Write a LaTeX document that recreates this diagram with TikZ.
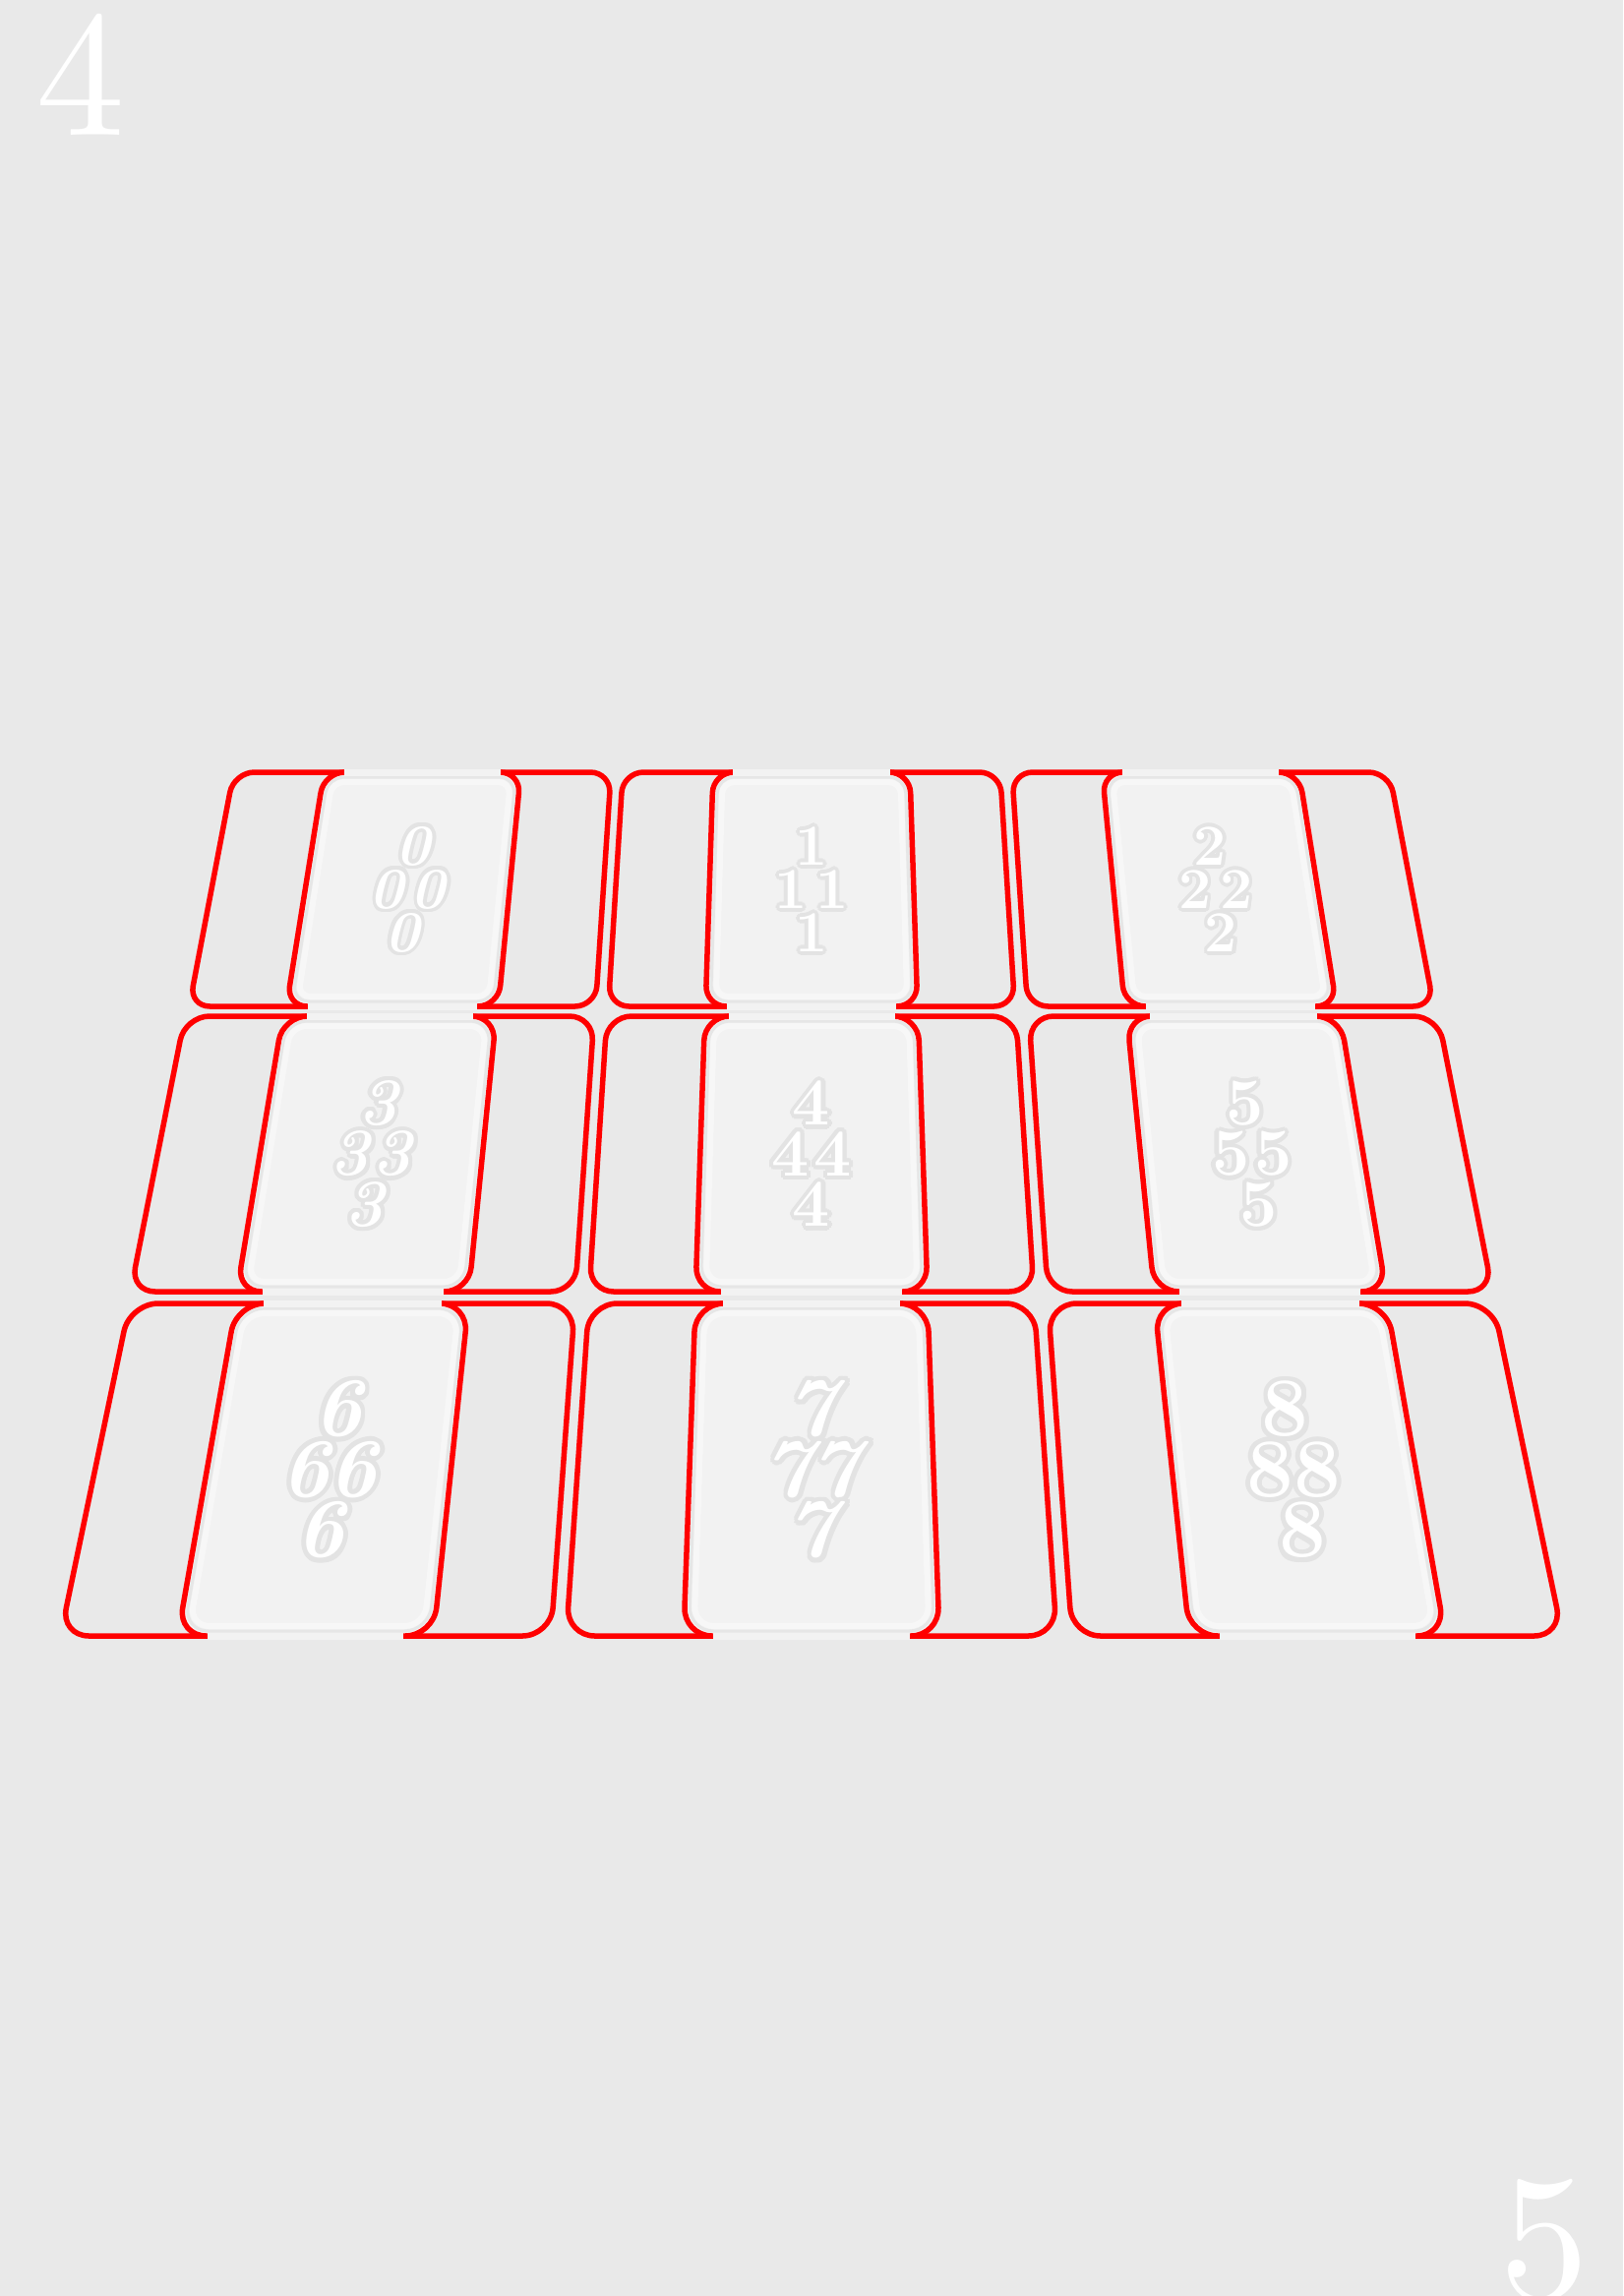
\documentclass[tikz,border=0pt]{standalone}
\usepackage{fontspec}
\usetikzlibrary{calc}
\newfontface\pgface{lmroman10-regular.otf}
\definecolor{bgc}{HTML}{E9E9E9}
\definecolor{cardfill}{HTML}{F2F2F2}
\definecolor{cardedge}{HTML}{E6E6E6}
\definecolor{cardhi}{HTML}{F7F7F7}
\definecolor{halo}{HTML}{E3E3E3}
\definecolor{tred}{HTML}{FF0000}
\tikzset{
  tileline/.style={draw=tred,line width=5.5},
  digit/.style={inner sep=0,font=\fontsize{\fs}{\fs}\selectfont\bfseries\digshape},
  pagenum/.style={inner sep=0,anchor=base,text=white,font=\fontsize{182}{182}\selectfont\pgface}
}
\newcommand\projx[3]{\pgfmathsetmacro#1{825+(#2)/587*(\Wt+((#3)-\yt)/(\yb-\yt)*(\Wb-\Wt))}}
\newcommand\tquad[5]{\projx\qa{#2}{#4}\projx\qb{#3}{#4}\projx\qc{#3}{#5}\projx\qd{#2}{#5}%
  \path[#1] (\qa,#4) -- (\qb,#4) -- (\qc,#5) -- (\qd,#5) -- cycle;}
\newcommand\halodigit[3]{%
  \foreach \a in {0,30,...,330}{\node[digit,text=halo] at ($(#1,#2)+(\a:\ha)$) {#3};}
  \node[digit,text=white] at (#1,#2) {#3};}
\begin{document}
\begin{tikzpicture}[x=1pt,y=-1pt]
\fill[bgc] (0,0) rectangle (1650,2334);
\useasboundingbox (0,0) rectangle (1650,2334);
\node[pagenum] (pa) at (82,137) {4};
\node[pagenum] (pb) at (1570,2336) {5};
\foreach \r/\yt/\yb/\Wt/\Wb/\rad/\rada/\radb/\fs/\sp/\hs/\ha in
  {1/785/1023/587.1/632.4/21/17/12/59/44/21/3.7,
   2/1033/1313/636.7/692.1/25/21/16/68/51.5/21.5/4.2,
   3/1325/1663/692.8/763.3/29/25/20/85/61.5/24/4.8}{
  \foreach \c in {0,1,2}{
    \pgfmathtruncatemacro\n{3*(\r-1)+\c}
    \pgfmathsetmacro\uc{(\c-1)*395.5}
    \pgfmathsetmacro\k{587/((\Wt+\Wb)/2)}
    \ifcase\n \def\digshape{\itshape}\or\def\digshape{}\or\def\digshape{}\or
      \def\digshape{\itshape}\or\def\digshape{}\or\def\digshape{}\or
      \def\digshape{\itshape}\or\def\digshape{\itshape}\or\def\digshape{}\fi
    % outer tile
    \tquad{tileline,rounded corners=\rad}{\uc-191.75}{\uc+191.75}{\yt}{\yb}
    % card
    \tquad{tileline,fill=cardfill,rounded corners=\rad}{\uc-100}{\uc+100}{\yt}{\yb}
    \tquad{draw=cardedge,line width=3,rounded corners=\rada}{\uc-100+5*\k}{\uc+100-5*\k}{\yt+5}{\yb-5}
    \tquad{draw=cardhi,line width=6,rounded corners=\radb}{\uc-100+10*\k}{\uc+100-10*\k}{\yt+10}{\yb-10}
    % bands over the straight top and bottom edges
    \projx\ba{\uc-100+\rad*\k}{\yt}\projx\bb{\uc+100-\rad*\k}{\yt}
    \fill[cardfill] (\ba,\yt-3.5) rectangle (\bb,\yt+3.5);
    \projx\ba{\uc-100+\rad*\k}{\yb}\projx\bb{\uc+100-\rad*\k}{\yb}
    \fill[cardfill] (\ba,\yb-3.5) rectangle (\bb,\yb+3.5);
    % digits
    \pgfmathsetmacro\ym{(\yt+\yb)/2}
    \pgfmathsetmacro\ya{\ym-\sp}
    \pgfmathsetmacro\yc{\ym+\sp}
    \projx\xa{\uc}{\ya}\projx\xm{\uc}{\ym}\projx\xc{\uc}{\yc}
    \halodigit{\xa}{\ya}{\n}
    \halodigit{\xm-\hs}{\ym}{\n}
    \halodigit{\xm+\hs}{\ym}{\n}
    \halodigit{\xc}{\yc}{\n}
  }
}
\end{tikzpicture}
\end{document}
